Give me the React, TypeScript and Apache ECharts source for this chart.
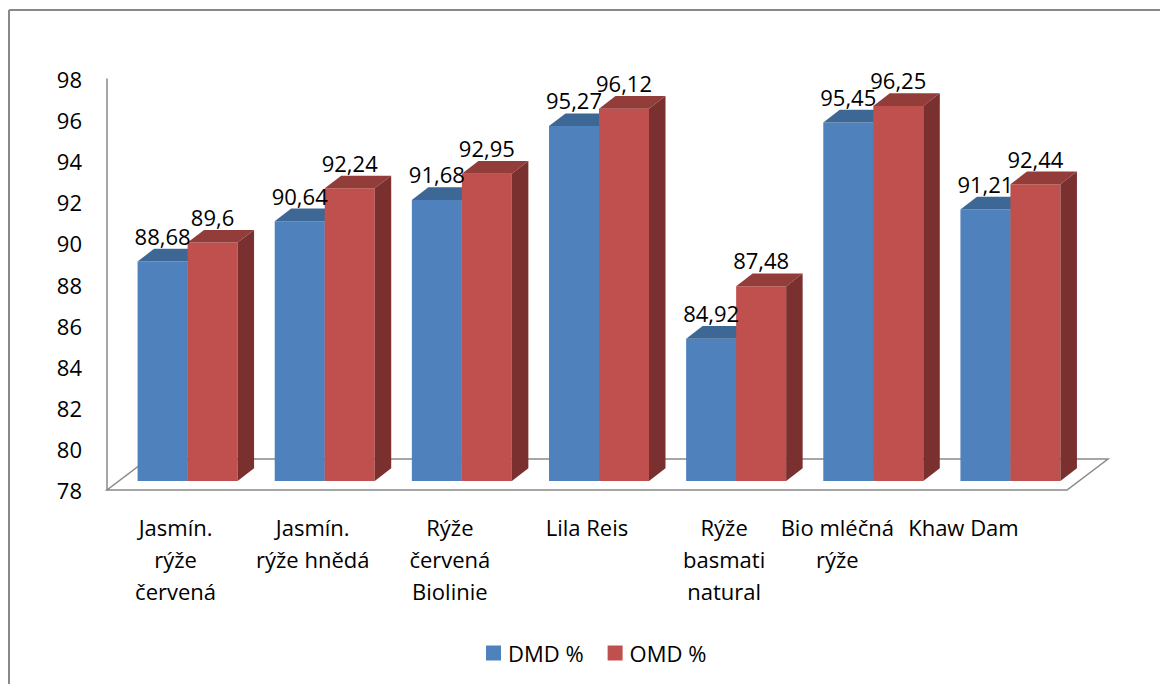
import { useEffect, useRef } from "react";
import * as echarts from "echarts";

// Categories (rice varieties) and digestibility values
const categories = [
  "Jasmín.\nrýže\nčervená",
  "Jasmín.\nrýže hnědá",
  "Rýže\nčervená\nBiolinie",
  "Lila Reis",
  "Rýže\nbasmati\nnatural",
  "Bio mléčná\nrýže",
  "Khaw Dam",
];
const dmdValues = [88.68, 90.64, 91.68, 95.27, 84.92, 95.45, 91.21];
const omdValues = [89.6, 92.24, 92.95, 96.12, 87.48, 96.25, 92.44];
const seriesNames = ["DMD %", "OMD %"];

const Y_MIN = 78;
const Y_MAX = 98;
const Y_STEP = 2;

// 3D look: depth offsets in pixels
const BAR_DX = 16.5;
const BAR_DY = -12.7;
const PLACE_DX = 12;
const PLACE_DY = -9;
const FLOOR_DX = 41;
const FLOOR_DY = -31;
const BAR_FRAC = 0.3646;

// horizontal nudges of some category labels (px, negative = left)
const labelShift = [0, 0, 0, 0, 0, -24, -35];

const FONT = '"Open Sans", sans-serif';
const AXIS_GRAY = "#898989";

const palettes = [
  { front: "#4F81BD", top: "#3D6794", side: "#3A5F8A" },
  { front: "#C0504D", top: "#933D3B", side: "#79302E" },
];

const fmt = (v: number) => String(v).replace(".", ",");

function makeBarRenderer(idx: number) {
  const pal = palettes[idx];
  return (_params: any, api: any) => {
    const i = api.value(0);
    const v = api.value(1);
    const top = api.coord([i, v]);
    const base = api.coord([i, Y_MIN]);
    const band = api.size([1, 0])[0];
    const w = band * BAR_FRAC;
    const cx = top[0] + PLACE_DX;
    const x0 = idx === 0 ? cx - w : cx;
    const x1 = x0 + w;
    const yt = top[1] + PLACE_DY;
    const yb = base[1] + PLACE_DY;
    return {
      type: "group",
      children: [
        {
          type: "rect",
          shape: { x: x0, y: yt, width: w, height: yb - yt },
          style: { fill: pal.front },
        },
        {
          type: "polygon",
          shape: {
            points: [
              [x0, yt],
              [x1, yt],
              [x1 + BAR_DX, yt + BAR_DY],
              [x0 + BAR_DX, yt + BAR_DY],
            ],
          },
          style: { fill: pal.top },
        },
        {
          type: "polygon",
          shape: {
            points: [
              [x1, yt],
              [x1 + BAR_DX, yt + BAR_DY],
              [x1 + BAR_DX, yb + BAR_DY],
              [x1, yb],
            ],
          },
          style: { fill: pal.side },
        },
      ],
    };
  };
}

function renderLabels(_params: any, api: any) {
  const i = api.value(0);
  const vals = [api.value(1), api.value(2)];
  const band = api.size([1, 0])[0];
  const w = band * BAR_FRAC;
  const children = vals.map((v: number, k: number) => {
    const p = api.coord([i, v]);
    const cx = p[0] + PLACE_DX + (k === 0 ? -w / 2 : w / 2);
    const y = p[1] + PLACE_DY + BAR_DY - 13;
    return {
      type: "text",
      style: {
        text: fmt(v),
        x: cx,
        y,
        textAlign: "center",
        textVerticalAlign: "middle",
        fontSize: 22,
        fontFamily: FONT,
        fill: "#000",
      },
    };
  });
  return { type: "group", children };
}

function renderFloor(params: any) {
  const cs = params.coordSys;
  const x = cs.x;
  const yb = cs.y + cs.height;
  const xr = cs.x + cs.width;
  return {
    type: "polygon",
    shape: {
      points: [
        [x, yb],
        [xr, yb],
        [xr + FLOOR_DX, yb + FLOOR_DY],
        [x + FLOOR_DX, yb + FLOOR_DY],
      ],
    },
    style: { fill: "none", stroke: AXIS_GRAY, lineWidth: 1.5 },
  };
}

const rich: Record<string, any> = {};
labelShift.forEach((s, i) => {
  if (s !== 0) {
    rich["s" + i] = {
      fontSize: 22,
      fontFamily: FONT,
      color: "#000",
      lineHeight: 32,
      padding: [0, -2 * s, 0, 0],
    };
  }
});

export default function App() {
  const ref = useRef<HTMLDivElement>(null);

  useEffect(() => {
    document.body.style.margin = "0";
    if (!ref.current) return;
    const chart = echarts.init(ref.current, null, { renderer: "svg" });
    chart.setOption({
      animation: false,
      backgroundColor: "#fff",
      grid: { left: 107, right: 93, top: 79, bottom: 194 },
      legend: {
        data: seriesNames,
        left: 481,
        top: 637,
        icon: "rect",
        itemWidth: 15,
        itemHeight: 15,
        itemGap: 24,
        textStyle: { fontSize: 22, fontFamily: FONT, color: "#000", padding: [0, 0, 0, 2] },
      },
      xAxis: {
        type: "category",
        data: categories,
        axisLine: { show: false },
        axisTick: { show: false },
        axisLabel: {
          interval: 0,
          margin: 21,
          fontSize: 22,
          fontFamily: FONT,
          color: "#000",
          lineHeight: 32,
          formatter: (value: string, index: number) =>
            labelShift[index] !== 0 ? `{s${index}|${value}}` : value,
          rich,
        },
      },
      yAxis: {
        type: "value",
        min: Y_MIN,
        max: Y_MAX,
        interval: Y_STEP,
        axisLine: { show: true, lineStyle: { color: AXIS_GRAY, width: 1.5 } },
        axisTick: { show: false },
        splitLine: { show: false },
        axisLabel: { margin: 25, fontSize: 22, fontFamily: FONT, color: "#000" },
      },
      graphic: [
        {
          type: "line",
          shape: { x1: 9, y1: 10, x2: 1160, y2: 10 },
          style: { stroke: AXIS_GRAY, lineWidth: 2 },
        },
        {
          type: "line",
          shape: { x1: 9, y1: 10, x2: 9, y2: 684 },
          style: { stroke: AXIS_GRAY, lineWidth: 2 },
        },
      ],
      series: [
        {
          type: "custom",
          name: "floor",
          silent: true,
          z: 1,
          clip: false,
          renderItem: renderFloor,
          data: [[0, Y_MIN]],
        },
        {
          type: "custom",
          name: seriesNames[0],
          z: 2,
          clip: false,
          itemStyle: { color: palettes[0].front },
          encode: { x: 0, y: 1 },
          renderItem: makeBarRenderer(0),
          data: dmdValues.map((v, i) => [i, v]),
        },
        {
          type: "custom",
          name: seriesNames[1],
          z: 2,
          clip: false,
          itemStyle: { color: palettes[1].front },
          encode: { x: 0, y: 1 },
          renderItem: makeBarRenderer(1),
          data: omdValues.map((v, i) => [i, v]),
        },
        {
          type: "custom",
          name: "values",
          z: 3,
          clip: false,
          silent: true,
          encode: { x: 0, y: 1 },
          renderItem: renderLabels,
          data: categories.map((_, i) => [i, dmdValues[i], omdValues[i]]),
        },
      ],
    });
    return () => chart.dispose();
  }, []);

  return <div ref={ref} style={{ width: 1160, height: 684 }} />;
}
